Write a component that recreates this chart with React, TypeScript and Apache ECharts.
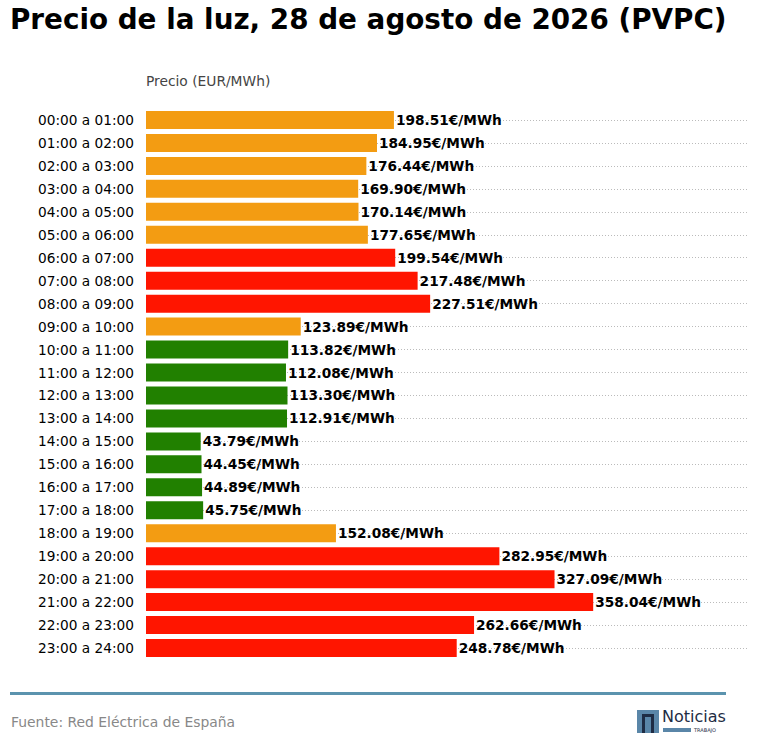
import { useEffect, useRef } from 'react'
import * as echarts from 'echarts'

const hours = [
  '00:00 a 01:00', '01:00 a 02:00', '02:00 a 03:00', '03:00 a 04:00', '04:00 a 05:00', '05:00 a 06:00',
  '06:00 a 07:00', '07:00 a 08:00', '08:00 a 09:00', '09:00 a 10:00', '10:00 a 11:00', '11:00 a 12:00',
  '12:00 a 13:00', '13:00 a 14:00', '14:00 a 15:00', '15:00 a 16:00', '16:00 a 17:00', '17:00 a 18:00',
  '18:00 a 19:00', '19:00 a 20:00', '20:00 a 21:00', '21:00 a 22:00', '22:00 a 23:00', '23:00 a 24:00',
]
const prices = [
  198.51, 184.95, 176.44, 169.9, 170.14, 177.65, 199.54, 217.48, 227.51, 123.89, 113.82, 112.08,
  113.3, 112.91, 43.79, 44.45, 44.89, 45.75, 152.08, 282.95, 327.09, 358.04, 262.66, 248.78,
]
// m = medio, a = alto, b = bajo
const levels = [
  'm', 'm', 'm', 'm', 'm', 'm', 'a', 'a', 'a', 'm', 'b', 'b',
  'b', 'b', 'b', 'b', 'b', 'b', 'm', 'a', 'a', 'a', 'a', 'a',
]
const levelColors: Record<string, string> = { m: '#F39C12', a: '#FF1500', b: '#218000' }

export default function App() {
  const ref = useRef<HTMLDivElement>(null)

  useEffect(() => {
    if (!ref.current) return
    const chart = echarts.init(ref.current, null, { renderer: 'svg' })
    const font = '"DejaVu Sans"'
    chart.setOption({
      animation: false,
      textStyle: { fontFamily: 'DejaVu Sans' },
      grid: { left: 146, right: 11, top: 120, bottom: 107 },
      xAxis: { type: 'value', min: 0, max: 482, show: false },
      yAxis: {
        type: 'category',
        inverse: true,
        data: hours,
        boundaryGap: false,
        axisLine: { show: false },
        axisTick: { show: false },
        axisLabel: { color: '#000', fontSize: 13.7, margin: 12, fontFamily: 'DejaVu Sans' },
        splitLine: { show: true, lineStyle: { color: '#bbb', type: [1, 2], width: 1 } },
      },
      series: [
        {
          type: 'bar',
          barWidth: 18,
          data: prices.map((v, i) => ({ value: v, itemStyle: { color: levelColors[levels[i]] } })),
          label: {
            show: true,
            position: 'right',
            distance: 2,
            color: '#000',
            fontWeight: 'bold',
            fontSize: 13.7,
            fontFamily: 'DejaVu Sans',
            formatter: (p: any) => p.value.toFixed(2) + '€/MWh',
          },
        },
      ],
      graphic: [
        {
          type: 'text', left: 10, top: 5,
          style: { text: 'Precio de la luz, 28 de agosto de 2026 (PVPC)', fill: '#000', font: `bold 27.8px ${font}` },
        },
        {
          type: 'text', left: 146, top: 74,
          style: { text: 'Precio (EUR/MWh)', fill: '#444', font: `13.8px ${font}` },
        },
        { type: 'rect', shape: { x: 10, y: 692, width: 716, height: 3 }, style: { fill: '#5B93AE' } },
        {
          type: 'text', left: 11, top: 715,
          style: { text: 'Fuente: Red Eléctrica de España', fill: '#888', font: `13.9px ${font}` },
        },
        { type: 'rect', shape: { x: 637, y: 710, width: 22, height: 23 }, style: { fill: '#5A86A8' } },
        { type: 'rect', shape: { x: 642, y: 714, width: 12, height: 19 }, style: { fill: '#1E2C44' } },
        { type: 'rect', shape: { x: 645, y: 717, width: 6, height: 16 }, style: { fill: '#5A86A8' } },
        {
          type: 'text', left: 662, top: 708,
          style: { text: 'Noticias', fill: '#1E2C44', font: `16px ${font}` },
        },
        { type: 'rect', shape: { x: 663, y: 728, width: 28, height: 4 }, style: { fill: '#5A86A8' } },
        {
          type: 'text', left: 694, top: 727,
          style: { text: 'TRABAJO', fill: '#1E2C44', font: `5px ${font}` },
        },
      ],
    })
    return () => chart.dispose()
  }, [])

  return <div ref={ref} style={{ position: 'absolute', left: 0, top: 0, width: 759, height: 755 }} />
}
